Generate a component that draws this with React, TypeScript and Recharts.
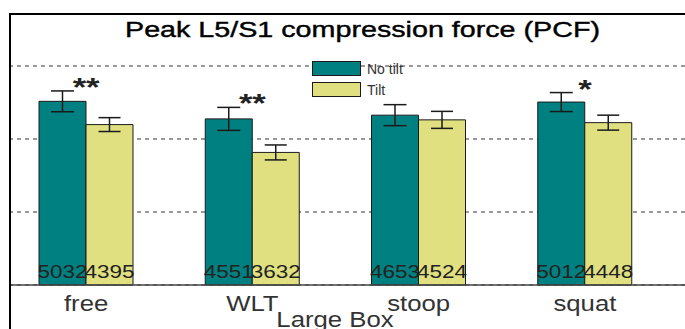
import React from 'react';
import {
  BarChart,
  Bar,
  XAxis,
  YAxis,
  CartesianGrid,
  ErrorBar,
  LabelList,
  ReferenceDot,
  Legend,
} from 'recharts';

const categories = ['free', 'WLT', 'stoop', 'squat'];
const noTilt = [5032, 4551, 4653, 5012];
const tilt = [4395, 3632, 4524, 4448];
const noTiltErr = [285, 315, 288, 260];
const tiltErr = [190, 205, 233, 205];
const significance = ['**', '**', '', '*'];
const yTicks = [0, 2000, 4000, 6000];
const seriesNames = ['No tilt', 'Tilt'];
const titleText = 'Peak L5/S1 compression force (PCF)';
const xAxisTitle = 'Large Box';

const TEAL = '#008080';
const YELLOW = '#E0E080';
const EDGE = '#1a1a1a';
const FONT = '"Liberation Sans", Arial, Helvetica, sans-serif';

const data = categories.map((c, i) => ({
  cat: c,
  noTilt: noTilt[i],
  tilt: tilt[i],
  noTiltErr: noTiltErr[i],
  tiltErr: tiltErr[i],
}));

const CategoryTick = (props: any) => {
  const { x, y, payload } = props;
  return (
    <g transform={`translate(${x}, ${y + 26}) scale(1.17, 1)`}>
      <text x={0} y={0} textAnchor="middle" fontSize={22} fill="#333" fontFamily={FONT}>
        {payload.value}
      </text>
    </g>
  );
};

const NumLabel = (props: any) => {
  const vb = props.viewBox || props;
  const x = Number(vb.x ?? props.x);
  const y = Number(vb.y ?? props.y);
  const w = Number(vb.width ?? props.width);
  const h = Number(vb.height ?? props.height);
  return (
    <text
      x={x + w / 2}
      y={y + h - 7}
      textAnchor="middle"
      fontSize={18}
      fill="#222"
      fontFamily={FONT}
      textLength={50}
      lengthAdjust="spacingAndGlyphs"
    >
      {props.value}
    </text>
  );
};

const StarLabel = (props: any) => {
  const vb = props.viewBox || {};
  const cx = vb.x + (vb.width || 0) / 2;
  const cy = vb.y + (vb.height || 0) / 2;
  const v = String(props.value ?? '');
  return (
    <text
      x={cx}
      y={cy + 5}
      textAnchor="middle"
      fontSize={26}
      fontWeight="bold"
      fill="#222"
      fontFamily={FONT}
      textLength={v.length * 13.5}
      lengthAdjust="spacingAndGlyphs"
    >
      {v}
    </text>
  );
};

const AxisTitle = (props: any) => {
  const vb = props.viewBox || {};
  return (
    <g transform={`translate(${vb.x + 326}, ${vb.y + 42}) scale(1.17, 1)`}>
      <text x={0} y={0} textAnchor="middle" fontSize={22} fill="#333" fontFamily={FONT}>
        {xAxisTitle}
      </text>
    </g>
  );
};

const LegendContent = (props: any) => {
  const payload = props.payload || [];
  return (
    <div style={{ display: 'flex', flexDirection: 'column' }}>
      {payload.map((p: any, i: number) => (
        <div key={i} style={{ display: 'flex', alignItems: 'center', height: 15, marginBottom: 6 }}>
          <div
            style={{
              width: 47,
              height: 13,
              background: p.color,
              border: `1px solid ${EDGE}`,
            }}
          />
          <span
            style={{
              marginLeft: 6,
              fontSize: 14,
              fontFamily: FONT,
              color: '#333',
              whiteSpace: 'nowrap',
            }}
          >
            {p.value}
          </span>
        </div>
      ))}
    </div>
  );
};

export default function App() {
  return (
    <div style={{ position: 'absolute', left: 0, top: 0, width: 685, height: 329, background: '#fff' }}>
      <BarChart
        width={685}
        height={329}
        data={data}
        margin={{ top: 66, right: 0, bottom: 0, left: 9 }}
        barGap={0}
      >
        <CartesianGrid vertical={false} stroke="#333" strokeDasharray="4 4" />
        <YAxis hide domain={[0, 6000]} ticks={yTicks} />
        <XAxis
          dataKey="cat"
          height={44}
          interval={0}
          tickLine={false}
          tickSize={0}
          tickMargin={0}
          padding={{ left: -6, right: 17 }}
          axisLine={{ stroke: '#444', strokeWidth: 1.5 }}
          tick={<CategoryTick />}
          label={{ content: AxisTitle }}
        />
        <Legend
          layout="vertical"
          verticalAlign="middle"
          align="center"
          wrapperStyle={{ position: 'absolute', top: 61, left: 312, width: 120, height: 40 }}
          content={LegendContent}
        />
        <Bar
          dataKey="noTilt"
          name={seriesNames[0]}
          fill={TEAL}
          stroke={EDGE}
          strokeWidth={1}
          barSize={47}
          isAnimationActive={false}
        >
          <ErrorBar dataKey="noTiltErr" width={11.5} stroke={EDGE} strokeWidth={1.5} direction="y" />
          <LabelList dataKey="noTilt" content={NumLabel} />
        </Bar>
        <Bar
          dataKey="tilt"
          name={seriesNames[1]}
          fill={YELLOW}
          stroke={EDGE}
          strokeWidth={1}
          barSize={47}
          isAnimationActive={false}
        >
          <ErrorBar dataKey="tiltErr" width={11} stroke={EDGE} strokeWidth={1.5} direction="y" />
          <LabelList dataKey="tilt" content={NumLabel} />
        </Bar>
        {categories.map((c, i) =>
          significance[i] ? (
            <ReferenceDot
              key={c}
              x={c}
              y={noTilt[i] + noTiltErr[i]}
              r={0}
              fill="none"
              stroke="none"
              label={{ value: significance[i], content: StarLabel }}
            />
          ) : null
        )}
      </BarChart>
      <svg
        width={685}
        height={329}
        style={{ position: 'absolute', left: 0, top: 0, pointerEvents: 'none' }}
      >
        <line x1={9} y1={14} x2={685} y2={14} stroke="#000" strokeWidth={2} />
        <line x1={10} y1={13} x2={10} y2={329} stroke="#000" strokeWidth={2} />
        <text
          x={362.5}
          y={37}
          textAnchor="middle"
          fontSize={22}
          fill="#000"
          stroke="#000"
          strokeWidth={0.4}
          fontFamily={FONT}
          textLength={475}
          lengthAdjust="spacingAndGlyphs"
        >
          {titleText}
        </text>
      </svg>
    </div>
  );
}
